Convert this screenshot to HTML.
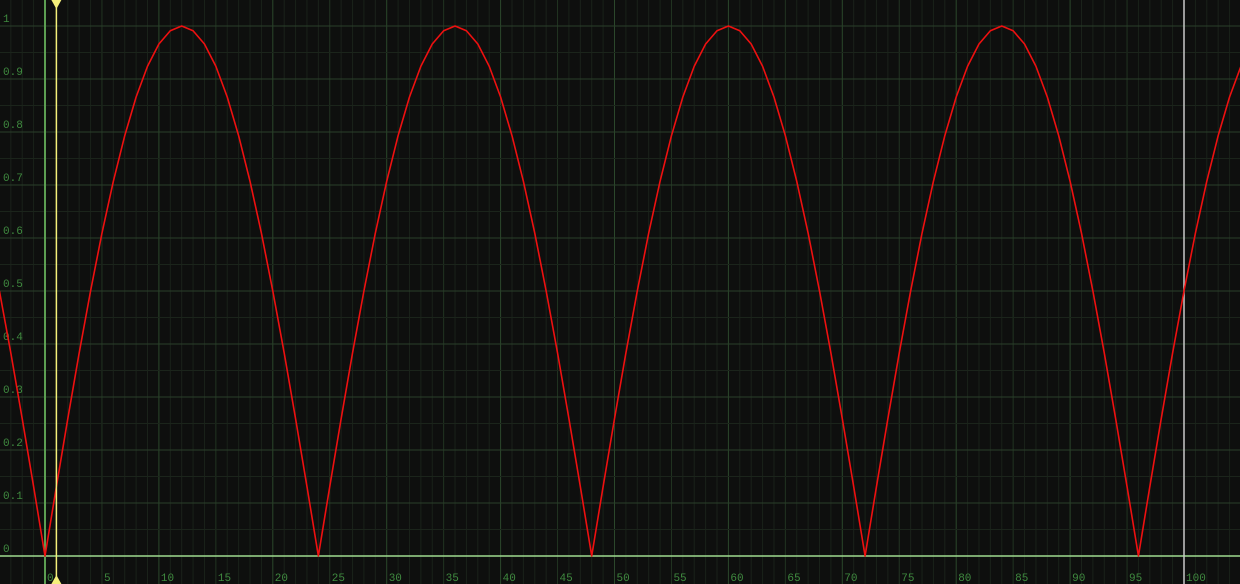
<!DOCTYPE html>
<html><head><meta charset="utf-8"><style>
html,body{margin:0;padding:0;background:#0e0f0e;width:1240px;height:584px;overflow:hidden}
svg{display:block}
text{font-family:"Liberation Mono","DejaVu Sans Mono",monospace;font-size:11px;fill:#3f8a3f}
</style></head><body>
<svg id="chart" width="1240" height="584" viewBox="0 0 1240 584"></svg>
<script>
const xTicks=[0,5,10,15,20,25,30,35,40,45,50,55,60,65,70,75,80,85,90,95,100];
const yTicks=[0,0.1,0.2,0.3,0.4,0.5,0.6,0.7,0.8,0.9,1];
const yTickLabels=["0","0.1","0.2","0.3","0.4","0.5","0.6","0.7","0.8","0.9","1"];
const startFrame=-4;
const values=[.5,.383,.259,.131,
0,.131,.259,.383,.5,.609,.707,.793,.866,.924,.966,.991,1,.991,.966,.924,.866,.793,.707,.609,.5,.383,.259,.131,
0,.131,.259,.383,.5,.609,.707,.793,.866,.924,.966,.991,1,.991,.966,.924,.866,.793,.707,.609,.5,.383,.259,.131,
0,.131,.259,.383,.5,.609,.707,.793,.866,.924,.966,.991,1,.991,.966,.924,.866,.793,.707,.609,.5,.383,.259,.131,
0,.131,.259,.383,.5,.609,.707,.793,.866,.924,.966,.991,1,.991,.966,.924,.866,.793,.707,.609,.5,.383,.259,.131,
0,.131,.259,.383,.5,.609,.707,.793,.866,.924];
const currentFrame=1;
const endFrame=100;

const X=f=>45+f*11.39;
const Y=v=>556-v*530;
const svg=document.getElementById('chart');
const NS='http://www.w3.org/2000/svg';
function mk(tag,attrs){const e=document.createElementNS(NS,tag);for(const k in attrs)e.setAttribute(k,attrs[k]);svg.appendChild(e);return e;}

// vertical grid per frame
for(let f=-4;f<=106;f++){
  const col=f%10===0?'#2b472b':(f%5===0?'#223422':'#1a221a');
  const l=mk('line',{x1:X(f),x2:X(f),y1:0,y2:584,stroke:col,'stroke-width':1});
  
  
}
// horizontal grid
for(let i=0;i<=21;i++){
  const v=i*0.05;
  const col=i%2===0?'#2a3f2a':'#1b241b';
  const l=mk('line',{x1:0,x2:1240,y1:Y(v),y2:Y(v),stroke:col,'stroke-width':1});
  
  
}
// y labels
yTicks.forEach((v,i)=>{
  const t=mk('text',{x:3,y:Y(v)-4});
  t.textContent=yTickLabels[i];
  
  
});
// x labels
xTicks.forEach(f=>{
  const t=mk('text',{x:X(f)+2,y:581});
  t.textContent=String(f);
  
  
});
// zero axes
const hz=mk('line',{x1:0,x2:1240,y1:Y(0),y2:Y(0),stroke:'#9fdc8f','stroke-width':1.5});


const vz=mk('line',{x1:X(0),x2:X(0),y1:0,y2:584,stroke:'#5c9e52','stroke-width':2});


const ve=mk('line',{x1:X(endFrame),x2:X(endFrame),y1:0,y2:584,stroke:'#c8c8c8','stroke-width':1.5});


// curve
const pts=values.map((v,i)=>X(startFrame+i).toFixed(2)+','+Y(v).toFixed(2)).join(' ');
const curve=mk('polyline',{points:pts,fill:'none',stroke:'#ee1010','stroke-width':1.6,'stroke-linejoin':'round'});


// playhead
const cx=X(currentFrame);
const ph=mk('line',{x1:cx,x2:cx,y1:0,y2:584,stroke:'#f4f07a','stroke-width':1.5});


const tt=mk('polygon',{points:`${cx-5},0 ${cx+5},0 ${cx},9`,fill:'#f4f07a'});


const tb=mk('polygon',{points:`${cx-5},584 ${cx+5},584 ${cx},575`,fill:'#f4f07a'});


</script>
</body></html>
